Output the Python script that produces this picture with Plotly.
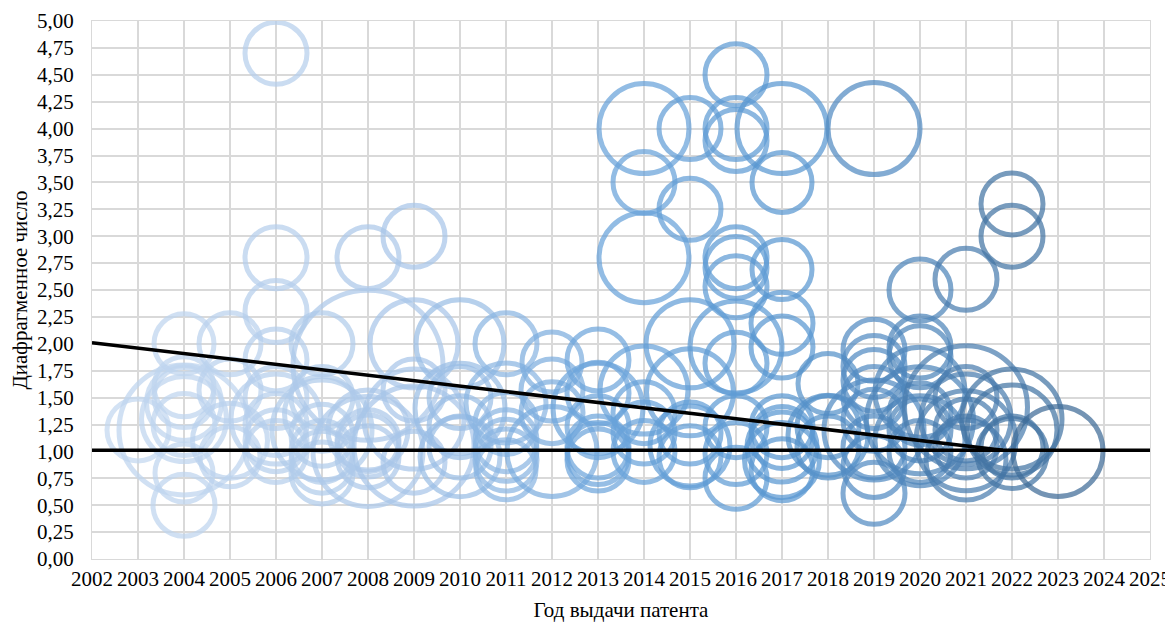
import plotly.graph_objects as go

# ---- data ----
year = [
    2003,
    2004, 2004, 2004, 2004, 2004, 2004, 2004, 2004, 2004,
    2005, 2005, 2005, 2005,
    2006, 2006, 2006, 2006, 2006, 2006, 2006, 2006, 2006,
    2007, 2007, 2007, 2007, 2007, 2007, 2007, 2007,
    2008, 2008, 2008, 2008, 2008, 2008, 2008,
    2009, 2009, 2009, 2009, 2009, 2009,
    2010, 2010, 2010, 2010, 2010, 2010,
    2011, 2011, 2011, 2011, 2011, 2011, 2011,
    2012, 2012, 2012, 2012,
    2013, 2013, 2013, 2013, 2013, 2013, 2013,
    2014, 2014, 2014, 2014, 2014, 2014, 2014,
    2015, 2015, 2015, 2015, 2015, 2015, 2015,
    2016, 2016, 2016, 2016, 2016, 2016, 2016, 2016, 2016, 2016, 2016,
    2017, 2017, 2017, 2017, 2017, 2017, 2017, 2017, 2017, 2017,
    2018, 2018, 2018, 2018,
    2019, 2019, 2019, 2019, 2019, 2019, 2019, 2019, 2019, 2019,
    2020, 2020, 2020, 2020, 2020, 2020, 2020, 2020, 2020,
    2021, 2021, 2021, 2021, 2021, 2021, 2021, 2021,
    2022, 2022, 2022, 2022, 2022, 2022,
    2023,
]
aperture = [
    1.20,
    1.20, 2.00, 1.60, 1.50, 1.45, 1.25, 1.30, 0.80, 0.50,
    2.00, 1.57, 1.10, 0.95,
    4.70, 2.80, 2.30, 1.85, 1.50, 1.25, 1.10, 1.00, 1.30,
    2.00, 1.50, 1.35, 1.15, 1.00, 0.90, 0.80, 1.20,
    2.80, 1.80, 1.20, 1.10, 1.05, 0.95, 1.00,
    3.00, 2.00, 1.57, 1.30, 1.05, 0.90,
    2.00, 1.50, 1.40, 1.23, 1.04, 0.95,
    2.00, 1.45, 1.26, 1.10, 1.01, 0.92, 0.83,
    1.83, 1.57, 1.36, 1.00,
    1.85, 1.54, 1.23, 1.04, 0.98, 0.92, 1.40,
    4.00, 3.50, 2.80, 1.57, 1.36, 1.17, 1.00,
    4.00, 3.25, 2.00, 1.55, 1.17, 0.95, 1.05,
    4.50, 4.00, 3.89, 2.80, 2.71, 2.53, 1.97, 1.82, 1.23, 0.98, 0.75,
    4.00, 3.50, 2.69, 2.19, 1.97, 1.23, 1.13, 1.04, 0.92, 0.83,
    1.63, 1.23, 1.04, 1.15,
    4.00, 1.94, 1.79, 1.66, 1.50, 1.29, 1.04, 0.86, 0.61, 1.20,
    2.50, 1.97, 1.88, 1.55, 1.35, 1.29, 1.20, 1.10, 1.00,
    2.60, 1.41, 1.50, 1.30, 1.20, 1.04, 0.92, 1.10,
    3.30, 3.00, 1.30, 1.20, 1.04, 0.98,
    1.00,
]
weight = [
    62,
    130, 60, 60, 60, 75, 62, 85, 58, 62,
    62, 62, 75, 60,
    62, 62, 62, 62, 62, 62, 62, 62, 90,
    62, 62, 75, 62, 62, 62, 62, 100,
    62, 150, 80, 62, 62, 62, 110,
    62, 88, 62, 100, 120, 62,
    88, 62, 90, 62, 62, 80,
    62, 80, 62, 62, 62, 62, 60,
    60, 62, 62, 90,
    62, 62, 62, 62, 62, 62, 90,
    90, 62, 90, 88, 62, 62, 62,
    62, 62, 88, 87, 62, 62, 80,
    62, 62, 62, 62, 62, 62, 92, 62, 62, 62, 62,
    90, 60, 60, 62, 62, 62, 62, 70, 75, 62,
    60, 62, 62, 80,
    92, 62, 62, 62, 62, 62, 62, 62, 62, 100,
    62, 62, 62, 90, 62, 107, 62, 90, 62,
    62, 123, 62, 90, 62, 62, 80, 100,
    62, 62, 100, 90, 62, 70,
    90,
]

trend_x = [2002, 2021.8]
trend_y = [2.01, 1.01]
base_x = [2002, 2025]
base_y = [1.01, 1.01]

x_ticks = list(range(2002, 2026))
y_ticks = [i * 0.25 for i in range(21)]

FONT = "Liberation Serif, Times New Roman, serif"

fig = go.Figure()
fig.add_trace(go.Scatter(
    x=year, y=aperture, mode="markers",
    marker=dict(
        size=weight, sizemode="diameter", sizeref=1.0,
        color="rgba(0,0,0,0)",
        opacity=0.72,
        line=dict(
            width=5, color=year,
            colorscale=[[0.0, "#c3d8f0"], [0.3, "#a8c6e9"], [0.5, "#6ea6dc"],
                        [0.7, "#5a98d2"], [0.85, "#4f86bb"], [1.0, "#3f6c98"]],
            cmin=2003, cmax=2023,
        ),
    ),
    hoverinfo="skip", showlegend=False,
))
fig.add_trace(go.Scatter(x=base_x, y=base_y, mode="lines",
                         line=dict(color="black", width=3.5),
                         hoverinfo="skip", showlegend=False))
fig.add_trace(go.Scatter(x=trend_x, y=trend_y, mode="lines",
                         line=dict(color="black", width=3.5),
                         hoverinfo="skip", showlegend=False))

# page body has an 8px margin, so the figure is sized to fit inside the window
fig.update_layout(
    width=1165, height=618,
    margin=dict(l=84, r=23, t=13, b=67),
    paper_bgcolor="white", plot_bgcolor="white",
    separators=", ",
    font=dict(family=FONT, size=21, color="black"),
    xaxis=dict(
        range=[2002, 2025], tickvals=x_ticks, ticktext=[str(v) for v in x_ticks],
        showgrid=True, gridcolor="#d9d9d9", gridwidth=1.5,
        zeroline=False, showline=True, linecolor="#d9d9d9", mirror=True,
        ticks="", ticklabelstandoff=1, automargin=False,
        tickfont=dict(family=FONT, size=21),
        title=dict(text="Год выдачи патента", font=dict(family=FONT, size=21), standoff=12),
    ),
    yaxis=dict(
        range=[0, 5], tickvals=y_ticks, tickformat=".2f",
        showgrid=True, gridcolor="#d9d9d9", gridwidth=1.5,
        zeroline=False, showline=True, linecolor="#d9d9d9", mirror=True,
        ticks="", ticklabelstandoff=13, automargin=False,
        tickfont=dict(family=FONT, size=21),
        title=dict(text="Диафрагменное число", font=dict(family=FONT, size=21), standoff=4),
    ),
)

fig.write_html("out.html")
